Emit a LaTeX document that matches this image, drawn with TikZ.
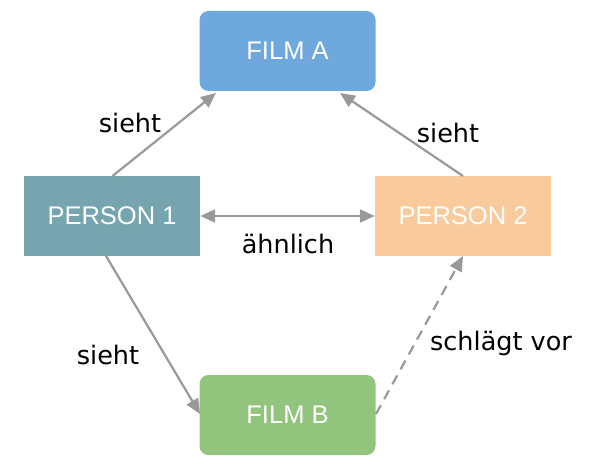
\documentclass[tikz,border=0pt]{standalone}
\usepackage{fontspec}
\setmainfont{Liberation Sans}
\newfontfamily\labelfont{DejaVu Sans}
\usetikzlibrary{arrows.meta}
\definecolor{filma}{HTML}{6FA8DC}
\definecolor{filmb}{HTML}{93C47D}
\definecolor{pers1}{HTML}{76A5AF}
\definecolor{pers2}{HTML}{F9CB9C}
\definecolor{arr}{HTML}{999999}
\begin{document}
\begin{tikzpicture}[x=1pt,y=-1pt,
  box/.style={minimum width=176pt,minimum height=80pt,inner sep=0pt,text=white,font=\fontsize{25.5}{30}\selectfont},
  rbox/.style={box,rounded corners=9pt},
  lbl/.style={font=\labelfont\fontsize{25.5}{30}\selectfont,text=black,inner sep=0pt},
  conn/.style={draw=arr,line width=2.2pt,-{Triangle[length=15pt,width=13pt]}},
]
\useasboundingbox (0,0) rectangle (593,465);
\node[rbox,fill=filma] (fa) at (287.5,51) {FILM A};
\node[box,fill=pers1] (p1) at (112,216) {PERSON 1};
\node[box,fill=pers2] (p2) at (463,216) {PERSON 2};
\node[rbox,fill=filmb] (fb) at (287.5,415) {FILM B};
\coordinate (p1t) at (112.5,176);
\coordinate (p1b) at (106,256);
\coordinate (p2t) at (463,176);
\coordinate (p2b) at (463,256);
\coordinate (fat1) at (216,93);
\coordinate (fat2) at (340,93);
\coordinate (fbl) at (200,414);
\coordinate (fbr) at (376,414);
\draw[conn] (p1t) -- (fat1);
\draw[conn] (p2t) -- (fat2);
\draw[conn,{Triangle[length=15pt,width=13pt]}-{Triangle[length=15pt,width=13pt]}] (p1.east) -- (p2.west);
\draw[conn] (p1b) -- (fbl);
\draw[conn,dashed,dash pattern=on 10pt off 7pt] (fbr) -- (p2b);
\node[lbl] (l1) at (130,123) {sieht};
\node[lbl] (l2) at (448,133) {sieht};
\node[lbl] (l3) at (288,244) {ähnlich};
\node[lbl] (l4) at (108,355) {sieht};
\node[lbl] (l5) at (501,343) {schlägt vor};
\end{tikzpicture}
\end{document}
